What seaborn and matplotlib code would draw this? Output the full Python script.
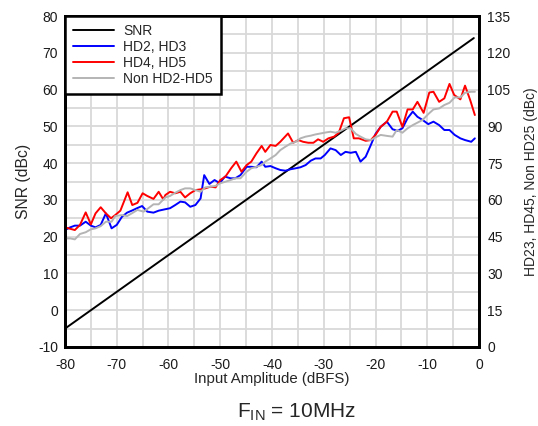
import matplotlib
matplotlib.use("Agg")
import matplotlib.pyplot as plt
import seaborn as sns
import numpy as np
from matplotlib.lines import Line2D

# ---- data ----
snr_x = [-80, -1]
snr_y = [-5, 74]

hd23_x = [-80, -79, -78.1, -77.1, -76, -75, -74.1, -73.1, -72.1, -71, -70, -69, -68, -67.1, -66.1, -65.1, -64.1, -62.9, -61.9,
          -60.6, -59.7, -58.7, -57.7, -56.8, -55.8, -54.8, -53.8, -53.1, -52.1, -51.1, -50.1, -49.1, -48, -47.1, -46.1, -44.9, -44, -43, -42,
          -41.3, -40.3, -39.3, -38.4, -37.4, -36.4, -35.4, -34.5, -33.5, -32.5, -31.6, -30.6, -29.8, -28.7, -27.7, -26.7, -25.8, -24.8, -23.8, -22.9, -21.9,
          -20.9, -20, -19, -17.8, -16.7, -15.7, -14.8, -13.8, -12.8, -11.9, -10.9, -9.8, -8.8, -7.7, -6.7, -5.7, -4.7, -3.6, -2.7, -1.5, -0.8]
hd23_y = [47.7, 48.8, 49.5, 49.5, 51.1, 49.5, 48.8, 49.8, 54.5, 48.4, 49.8, 53.1, 54.8, 55.6, 56.6, 57.5, 55.2, 54.8, 55.6,
          56.2, 56.6, 57.9, 59.3, 59.0, 57.2, 57.9, 60.6, 70.1, 66.5, 68.1, 66.8, 69.5, 68.8, 68.8, 70.1, 73.5, 73.5, 73.3, 75.6,
          73.5, 73.8, 72.9, 72.2, 71.9, 72.5, 72.9, 73.3, 74.2, 76.0, 76.9, 76.9, 78.3, 81.0, 80.3, 78.3, 79.6, 79.2, 79.6, 75.6, 77.6,
          82.4, 86.9, 89.8, 91.9, 88.8, 88.2, 89.2, 93.3, 96.0, 93.9, 92.6, 90.9, 91.9, 90.5, 88.5, 88.5, 86.5, 85.1, 84.4, 83.7, 85.1]

hd45_x = [-80, -78.1, -77.1, -76, -75, -74.1, -73.1, -72.1, -71.1, -70.3, -69.3, -67.9, -67, -66, -65, -64.1, -62.9, -61.9, -61,
          -60.6, -59.7, -58.7, -57.7, -56.8, -55.8, -54.8, -53.8, -52.9, -51.9, -50.9, -50, -49, -47.9, -46.9, -45.9, -44.9, -44, -43, -42,
          -41.3, -40.3, -39.3, -38.4, -36.9, -35.9, -34.9, -34, -33, -32, -31.1, -30.1, -29.1, -28, -27.1, -26.1, -25.1, -24.2, -23.2, -21.9,
          -20.9, -20, -19, -17.8, -16.7, -15.9, -14.8, -13.8, -12.8, -11.9, -10.7, -9.6, -8.8, -7.7, -6.7, -5.7, -4.8, -3.6, -2.7, -1.7, -0.8]
hd45_y = [48.8, 47.7, 49.8, 54.9, 50.0, 54.5, 57.0, 54.5, 52.5, 53.8, 55.6, 63.1, 57.9, 58.8, 62.7, 61.6, 60.4, 63.3, 60.2,
          62.0, 63.3, 62.7, 63.3, 61.0, 62.7, 64.0, 64.3, 64.7, 65.4, 65.1, 68.1, 69.5, 72.9, 75.6, 71.5, 74.2, 75.6, 79.0, 82.0,
          79.6, 82.4, 82.0, 83.7, 87.1, 83.3, 84.4, 83.7, 83.3, 83.3, 84.7, 83.7, 85.1, 85.8, 87.4, 93.3, 93.7, 85.1, 85.1, 84.1,
          84.4, 86.5, 89.8, 91.9, 96.0, 96.0, 89.8, 96.9, 96.9, 100.0, 95.5, 103.8, 104.1, 100.0, 101.4, 107.3, 102.8, 101.0, 106.6, 100.7, 94.6]

non_x = [-80, -79, -78.1, -77.1, -76, -75, -74.1, -73.1, -72.1, -71, -70.3, -69, -68, -67.1, -66, -64.8, -63.9, -62.9, -61.9,
         -60.6, -59.7, -58.7, -57.7, -56.8, -55.8, -54.8, -53.8, -52.9, -51.9, -50.9, -50, -49, -48, -47.1, -46.1, -44.9, -44, -43, -42,
         -41.3, -40.3, -39.3, -38.4, -37.4, -36.4, -35.4, -34.5, -33.5, -32.5, -31.6, -30.6, -29.6, -28.7, -27.7, -26.7, -25.8, -24.8, -23.8, -22.9, -21.9,
         -20.9, -20, -19, -17.8, -16.7, -15.9, -14.8, -13.8, -12.8, -11.9, -10.9, -9.8, -8.8, -7.7, -6.7, -5.7, -4.7, -3.6, -2.7, -1.5, -0.8]
non_y = [44.3, 44.3, 43.9, 46.1, 46.8, 48.0, 48.4, 49.3, 51.1, 51.1, 53.4, 53.8, 53.4, 54.5, 55.9, 55.2, 56.6, 58.2, 58.2,
         61.0, 61.6, 62.9, 64.0, 64.7, 64.7, 64.0, 63.3, 65.1, 65.4, 65.7, 66.8, 67.4, 68.1, 68.8, 68.8, 71.5, 72.9, 73.5, 74.2,
         75.6, 76.9, 78.3, 80.3, 81.7, 83.0, 83.7, 85.1, 85.8, 86.2, 86.7, 87.1, 87.5, 87.8, 87.4, 88.2, 89.2, 89.2, 86.9, 85.8, 84.7,
         84.4, 85.5, 86.5, 86.1, 85.8, 88.5, 87.4, 89.2, 90.5, 91.5, 92.6, 95.0, 96.9, 97.3, 98.7, 99.6, 101.8, 101.8, 103.7, 104.1, 104.1]

x_ticks = [-80, -70, -60, -50, -40, -30, -20, -10, 0]
left_ticks = [-10, 0, 10, 20, 30, 40, 50, 60, 70, 80]
right_ticks = [0, 15, 30, 45, 60, 75, 90, 105, 120, 135]
labels = ['SNR', 'HD2, HD3', 'HD4, HD5', 'Non HD2-HD5']

# ---- style ----
sns.set_theme(style="white")
plt.rcParams['font.family'] = ['Liberation Sans', 'DejaVu Sans']
plt.rcParams['axes.unicode_minus'] = False
plt.rcParams['mathtext.fontset'] = 'custom'
plt.rcParams['mathtext.rm'] = 'Liberation Sans'

fig = plt.figure(figsize=(5.38, 4.26), dpi=100)
ax = fig.add_axes([65/538, 1-347/426, (479-65)/538, (347-16)/426])
ax2 = ax.twinx()

lw = 1.4
sns.lineplot(x=snr_x, y=snr_y, ax=ax, color='black', lw=lw, legend=False, estimator=None)
sns.lineplot(x=hd23_x, y=hd23_y, ax=ax2, color='#0000ff', lw=lw, legend=False, estimator=None, sort=False)
sns.lineplot(x=hd45_x, y=hd45_y, ax=ax2, color='#ff0000', lw=lw, legend=False, estimator=None, sort=False)
sns.lineplot(x=non_x, y=non_y, ax=ax2, color='#b4b4b4', lw=lw, legend=False, estimator=None, sort=False)

ax.set_xlim(-80, 0)
ax.set_ylim(-10, 80)
ax2.set_ylim(0, 135)
ax.set_xticks(x_ticks)
ax.set_xticks(np.arange(-75, 0, 10), minor=True)
ax.set_yticks(left_ticks)
ax.set_yticks(np.arange(-5, 80, 10), minor=True)
ax2.set_yticks(right_ticks)
ax.set_xticklabels([str(v) for v in x_ticks])
ax.set_yticklabels([str(v) for v in left_ticks])
ax2.set_yticklabels([str(v) for v in right_ticks])

ax.grid(True, which='both', color='#d9d9d9', lw=1.3)
ax2.grid(False)
ax.set_axisbelow(True)

ax.tick_params(axis='both', which='both', length=0, labelsize=10, colors='#1a1a1a')
ax.tick_params(axis='x', pad=8)
ax.tick_params(axis='y', pad=5)
ax2.tick_params(axis='y', which='both', length=0, labelsize=10, pad=6, colors='#1a1a1a')

for a in (ax, ax2):
    for s in a.spines.values():
        s.set_color('black')
        s.set_linewidth(2)

ax.set_xlabel('Input Amplitude (dBFS)', fontsize=10.8, labelpad=0)
ax.set_ylabel('SNR (dBc)', fontsize=11.3, labelpad=5)
ax2.set_ylabel('HD23, HD45, Non HD25 (dBc)', fontsize=10, labelpad=9.5)

handles = [Line2D([], [], color='black', lw=lw),
           Line2D([], [], color='#0000ff', lw=lw),
           Line2D([], [], color='#ff0000', lw=lw),
           Line2D([], [], color='#b4b4b4', lw=lw)]
leg = ax2.legend(handles, labels, loc='upper left', bbox_to_anchor=(0, 1), borderaxespad=0,
                 fontsize=10, frameon=True, fancybox=False, framealpha=1, edgecolor='black',
                 handlelength=2.9, handletextpad=0.7, labelspacing=0.13, borderpad=0.6)
leg.get_frame().set_linewidth(1.8)

fig.text(297/538, 1-412/426, r'F$_{\mathrm{IN}}$ = 10MHz', ha='center', va='center', fontsize=15)

fig.savefig('out.png', dpi=100)
